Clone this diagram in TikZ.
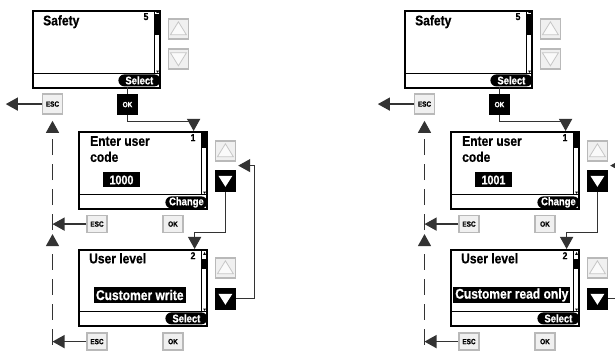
\documentclass[tikz,border=0pt]{standalone}
\usepackage{fontspec}
\newfontfamily\lcd[FakeStretch=0.86, FakeBold=0.6]{Liberation Sans}
\usetikzlibrary{arrows.meta,calc}

\begin{document}
\begin{tikzpicture}[
  x=1pt, y=-1pt,
  font=\lcd\bfseries,
  screen/.style={
    draw,
    line width=1.6pt,
    anchor=north west,
    minimum width=128pt,
    minimum height=77pt,
    inner sep=0pt
  },
  pill/.style={
    fill=black,
    text=white,
    rounded corners=6pt,
    minimum width=42pt,
    minimum height=12pt,
    inner sep=0pt,
    anchor=south east,
    font=\lcd\bfseries\fontsize{11}{11}\selectfont
  },
  title/.style={anchor=north west, inner sep=0pt, align=left, font=\lcd\bfseries\fontsize{14}{16}\selectfont},
  pagenum/.style={anchor=north east, inner sep=0pt, font=\lcd\bfseries\fontsize{10}{10}\selectfont},
  value/.style={
    fill=black,
    text=white,
    inner xsep=2pt,
    inner ysep=0pt,
    minimum height=15pt,
    font=\lcd\bfseries\fontsize{14}{14}\selectfont
  },
  key/.style={
    draw=gray!55,
    fill=gray!12,
    line width=1.6pt,
    minimum width=20pt,
    minimum height=20pt,
    inner sep=0pt,
    anchor=north west
  },
  upkey/.style={key, path picture={
    \draw[shift={(path picture bounding box.center)}, draw=gray!45, fill=gray!4, line width=0.8pt]
      (-8pt,-6pt) -- (8pt,-6pt) -- (0pt,7pt) -- cycle;}},
  downkey/.style={key, path picture={
    \draw[shift={(path picture bounding box.center)}, draw=gray!45, fill=gray!4, line width=0.8pt]
      (-8pt,6pt) -- (8pt,6pt) -- (0pt,-7pt) -- cycle;}},
  activekey/.style={key, draw=black, fill=black, path picture={
    \fill[shift={(path picture bounding box.center)}, white]
      (-7pt,5pt) -- (7pt,5pt) -- (0pt,-6pt) -- cycle;}},
  softkey/.style={
    draw=gray!55,
    fill=gray!12,
    line width=1.4pt,
    minimum width=20pt,
    minimum height=17pt,
    inner sep=0pt,
    font=\lcd\bfseries\fontsize{7.5}{7.5}\selectfont
  },
  okkey/.style={softkey, draw=black, fill=black, text=white},
  link/.style={line width=1.2pt, draw=black!80},
  arr/.style={link, -{Triangle[length=12pt, width=13pt]}},
  ret/.style={arr, dash pattern=on 16pt off 9pt}
]
  \useasboundingbox (0,0) rectangle (615,352);
  \clip (0,0) rectangle (615,352);

  \foreach \p/\dx/\code/\level in {L/0/1000/Customer write, R/372/1001/Customer read only}{
  \begin{scope}[xshift=\dx pt]
    % Safety menu
    \node[screen, minimum width=127pt] (scr1\p) at (32,10) {};
    \node[title] (t1\p) at ([xshift=11pt,yshift=-5pt]scr1\p.north west) {Safety};
    \node[pagenum] (n1\p) at ([xshift=-12pt,yshift=-3pt]scr1\p.north east) {5};
    \coordinate (sep1\p) at ([yshift=15pt]scr1\p.south east);
    \draw[line width=1.2pt] (sep1\p) -- (sep1\p -| scr1\p.west);
    \draw[line width=0.8pt] ([xshift=-6pt]scr1\p.north east) rectangle (sep1\p);
    \fill ([xshift=-6pt,yshift=-4pt]scr1\p.north east) rectangle ([yshift=-25pt]scr1\p.north east);
    \fill[shift={(scr1\p.north east)}] (-4.5pt,-3pt) -- (-1.5pt,-3pt) -- (-3pt,-0.8pt) -- cycle;
    \fill[shift={(sep1\p)}] (-4.5pt,3pt) -- (-1.5pt,3pt) -- (-3pt,0.8pt) -- cycle;
    \node[pill] (sel1\p) at ([yshift=2pt]scr1\p.south east) {Select};
    \node[upkey] (up1\p) at ([xshift=7pt,yshift=-8pt]scr1\p.north east) {};
    \node[downkey] (dn1\p) at ([xshift=7pt,yshift=-38pt]scr1\p.north east) {};
    \node[softkey, minimum height=20pt] (esc1\p) at ([xshift=20.5pt,yshift=-15.5pt]scr1\p.south west) {ESC};
    \node[okkey, minimum height=20pt] (ok1\p) at ([xshift=95.5pt,yshift=-16pt]scr1\p.south west) {OK};

    % Enter user code
    \node[screen] (scr2\p) at (78,131) {};
    \node[title] (t2\p) at ([xshift=12pt,yshift=-5pt]scr2\p.north west) {Enter user\\code};
    \node[pagenum] (n2\p) at ([xshift=-12pt,yshift=-3pt]scr2\p.north east) {1};
    \node[value, minimum width=37pt, font=\lcd\bfseries\fontsize{12.5}{12.5}\selectfont] (v2\p) at ([xshift=43.5pt,yshift=-49pt]scr2\p.north west) {\code};
    \coordinate (sep2\p) at ([yshift=15pt]scr2\p.south east);
    \draw[line width=1.2pt] (sep2\p) -- (sep2\p -| scr2\p.west);
    \draw[line width=0.8pt] ([xshift=-6pt]scr2\p.north east) rectangle (sep2\p);
    \fill ([xshift=-6pt]scr2\p.north east) rectangle ([yshift=-17pt]scr2\p.north east);
    \fill[shift={(sep2\p)}] (-4.5pt,3pt) -- (-1.5pt,3pt) -- (-3pt,0.8pt) -- cycle;
    \node[pill] (chg2\p) at ([yshift=1pt]scr2\p.south east) {Change};
    \node[upkey] (up2\p) at ([xshift=7pt,yshift=-9pt]scr2\p.north east) {};
    \node[activekey] (dn2\p) at ([xshift=7pt,yshift=-39pt]scr2\p.north east) {};
    \node[softkey] (esc2\p) at ([xshift=19pt,yshift=-14.5pt]scr2\p.south west) {ESC};
    \node[softkey] (ok2\p) at ([xshift=95pt,yshift=-14.5pt]scr2\p.south west) {OK};

    % User level
    \node[screen, minimum height=76pt] (scr3\p) at (78,249) {};
    \node[title] (t3\p) at ([xshift=11pt,yshift=-4pt]scr3\p.north west) {User level};
    \node[pagenum] (n3\p) at ([xshift=-12pt,yshift=-3pt]scr3\p.north east) {2};
    \node[value, minimum height=16pt] (v3\p) at ([xshift=-3pt,yshift=-46pt]scr3\p.north) {\level};
    \coordinate (sep3\p) at ([yshift=15pt]scr3\p.south east);
    \draw[line width=1.2pt] (sep3\p) -- (sep3\p -| scr3\p.west);
    \draw[line width=0.8pt] ([xshift=-6pt]scr3\p.north east) rectangle (sep3\p);
    \fill ([xshift=-6pt,yshift=-10pt]scr3\p.north east) rectangle ([yshift=-20pt]scr3\p.north east);
    \fill[shift={(scr3\p.north east)}] (-4.5pt,-6pt) -- (-1.5pt,-6pt) -- (-3pt,-3pt) -- cycle;
    \fill[shift={(sep3\p)}] (-4.5pt,3pt) -- (-1.5pt,3pt) -- (-3pt,0.8pt) -- cycle;
    \node[pill] (sel3\p) at ([yshift=2pt]scr3\p.south east) {Select};
    \node[upkey] (up3\p) at ([xshift=7pt,yshift=-8pt]scr3\p.north east) {};
    \node[activekey] (dn3\p) at ([xshift=7pt,yshift=-39pt]scr3\p.north east) {};
    \node[softkey] (esc3\p) at ([xshift=19pt,yshift=-15pt]scr3\p.south west) {ESC};
    \node[softkey] (ok3\p) at ([xshift=95pt,yshift=-15pt]scr3\p.south west) {OK};

    % OK and down keys lead on
    \draw[link] (sel1\p.south -| ok1\p.north) -- (ok1\p.north);
    \draw[arr] (ok1\p.south) -- ++(0,6) -| ([xshift=-14pt]scr2\p.north east);
    \draw[arr] (dn2\p.south) -- ++(0,41) -| ([xshift=-13pt]scr3\p.north east);
    \draw[arr] (dn3\p.east) -- ++(18,0) |- ([xshift=2pt,yshift=-4pt]up2\p.south east);

    % ESC goes back
    \coordinate (j2\p) at (esc1\p.south |- esc2\p.west);
    \coordinate (j3\p) at (esc1\p.south |- esc3\p.west);
    \draw[arr] (esc1\p.west) -- ++(-36,0);
    \draw[arr] (esc2\p.west) -- (j2\p);
    \draw[arr] (esc3\p.west) -- (j3\p);
    \draw[ret] ([yshift=-6pt]j2\p) -- ([yshift=-6pt]esc1\p.south);
    \draw[ret] ([yshift=-3pt]j3\p) -- ([yshift=-10pt]j2\p);
  \end{scope}
  }
\end{tikzpicture}
\end{document}
